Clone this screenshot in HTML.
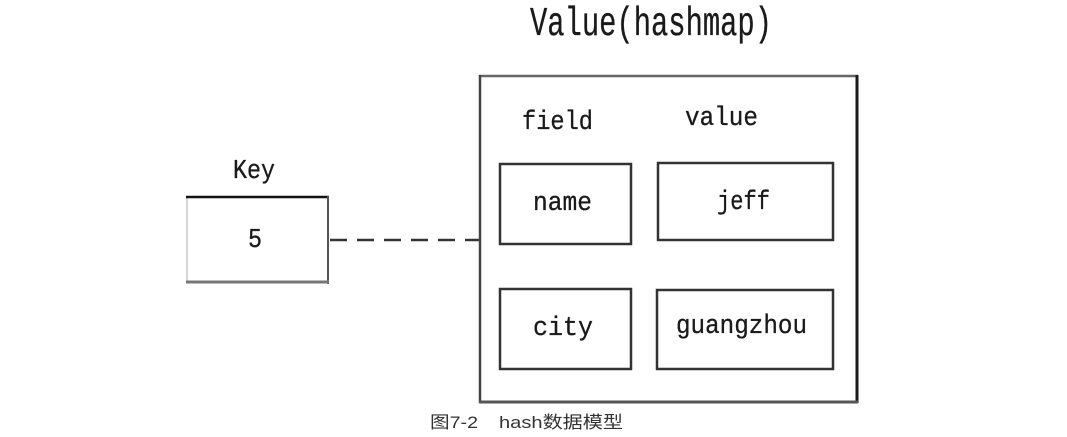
<!DOCTYPE html>
<html>
<head>
<meta charset="utf-8">
<style>
  html,body{margin:0;padding:0;background:#fff;}
  body{width:1067px;height:437px;overflow:hidden;}
  svg{display:block;}
  .m{font-family:"Liberation Mono","Noto Sans CJK SC",monospace;fill:#1a1a1a;stroke:#1a1a1a;stroke-width:0.3px;}
  .c{font-family:"Liberation Sans","Noto Sans CJK SC",sans-serif;fill:#333;}
</style>
</head>
<body>
<svg width="1067" height="437" viewBox="0 0 1067 437" xmlns="http://www.w3.org/2000/svg">
  <rect x="0" y="0" width="1067" height="437" fill="#fff"/>

  <!-- Title -->
  <text class="m" x="530" y="35" font-size="41" textLength="242" lengthAdjust="spacingAndGlyphs">Value(hashmap)</text>

  <!-- Key label and box -->
  <text class="m" x="233" y="178" font-size="27" textLength="42" lengthAdjust="spacingAndGlyphs">Key</text>
  <line x1="187" y1="283" x2="187" y2="197" stroke="#c8c8c8" stroke-width="1.5"/>
  <line x1="186" y1="197" x2="329" y2="197" stroke="#111" stroke-width="2.5"/>
  <line x1="328" y1="196" x2="328" y2="284" stroke="#555" stroke-width="2"/>
  <line x1="186" y1="282" x2="329" y2="282" stroke="#777" stroke-width="3"/>
  <text class="m" x="248" y="247" font-size="27" textLength="14" lengthAdjust="spacingAndGlyphs">5</text>

  <!-- dashed connector -->
  <line x1="330" y1="240" x2="480" y2="240" stroke="#333" stroke-width="2.5" stroke-dasharray="17 10"/>

  <!-- Outer hashmap box -->
  <line x1="479" y1="76" x2="858" y2="76" stroke="#666" stroke-width="2.5"/>
  <line x1="480" y1="75" x2="480" y2="403" stroke="#444" stroke-width="2.5"/>
  <line x1="857" y1="75" x2="857" y2="403" stroke="#1a1a1a" stroke-width="3"/>
  <line x1="479" y1="402" x2="858" y2="402" stroke="#555" stroke-width="3"/>

  <!-- column labels -->
  <text class="m" x="522" y="129" font-size="27" textLength="71" lengthAdjust="spacingAndGlyphs">field</text>
  <text class="m" x="685" y="125" font-size="27" textLength="73" lengthAdjust="spacingAndGlyphs">value</text>

  <!-- inner boxes -->
  <rect x="500" y="164" width="131" height="80" fill="none" stroke="#333" stroke-width="2.5"/>
  <rect x="658" y="163" width="175" height="77" fill="none" stroke="#333" stroke-width="2.5"/>
  <rect x="500" y="289" width="131" height="80" fill="none" stroke="#333" stroke-width="2.5"/>
  <rect x="657" y="290" width="176" height="79" fill="none" stroke="#333" stroke-width="2.5"/>

  <text class="m" x="533" y="210" font-size="27" textLength="59" lengthAdjust="spacingAndGlyphs">name</text>
  <text class="m" x="717" y="209" font-size="27" textLength="53" lengthAdjust="spacingAndGlyphs">jeff</text>
  <text class="m" x="533" y="335" font-size="27" textLength="60" lengthAdjust="spacingAndGlyphs">city</text>
  <text class="m" x="676" y="333" font-size="27" textLength="131" lengthAdjust="spacingAndGlyphs">guangzhou</text>

  <!-- caption -->
  <text class="c" x="430" y="428" font-size="17" textLength="48" lengthAdjust="spacingAndGlyphs">图7-2</text>
  <text class="c" x="499" y="428" font-size="17" textLength="124" lengthAdjust="spacingAndGlyphs">hash数据模型</text>
</svg>
</body>
</html>
